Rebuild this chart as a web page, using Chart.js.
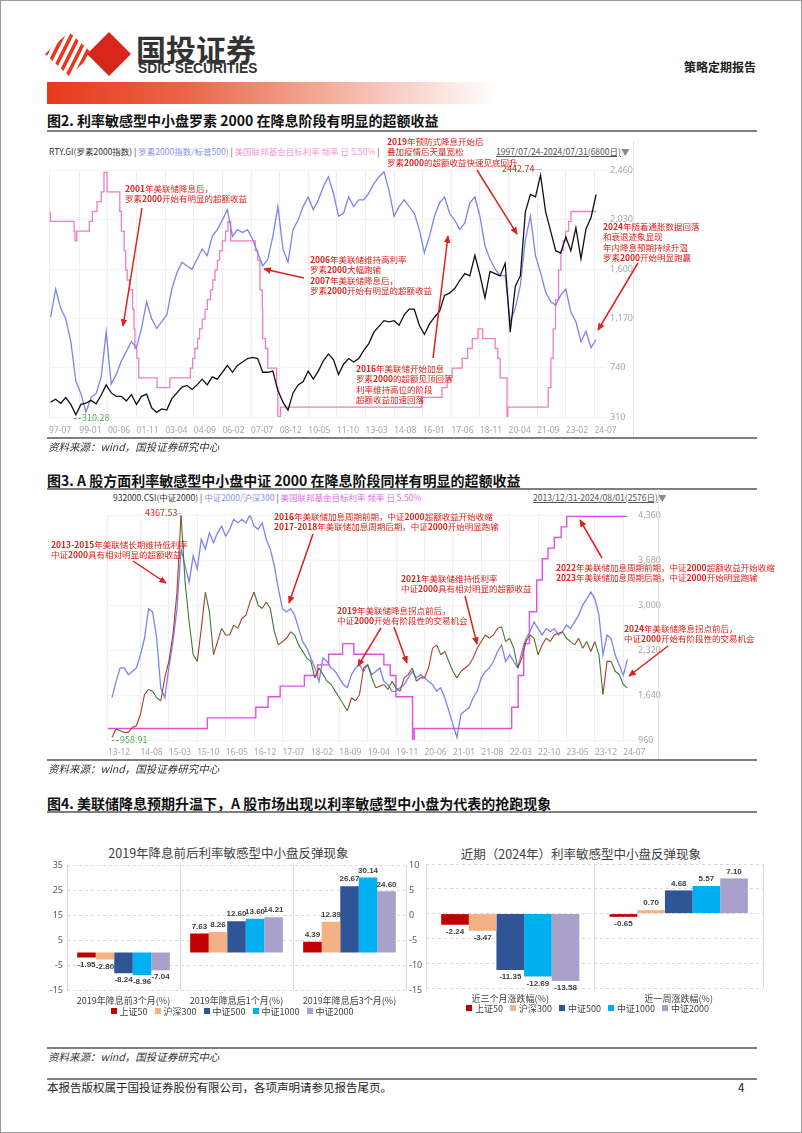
<!DOCTYPE html>
<html lang="zh-CN">
<head>
<meta charset="UTF-8" />
<title>策略定期报告</title>
<script src="https://cdn.jsdelivr.net/npm/chart.js"></script>
<style>
  body { margin: 0; background: #fff; font-family: "Noto Sans CJK SC", "Noto Sans", sans-serif; }
  .page { position: relative; width: 802px; height: 1133px; box-sizing: border-box; border: 1px solid #9a9a9a; overflow: hidden; background: #fff; }
  .abs { position: absolute; white-space: nowrap; }
  .rule { position: absolute; left: 46px; width: 710px; height: 2px; background: #7f7f7f; }
  .title { font-size: 14px; font-weight: bold; color: #111; line-height: 18px; }
  .source { font-size: 10.5px; font-style: italic; color: #333; line-height: 14px; }
  .hdr { font-size: 8.5px; line-height: 12px; color: #333; }
  .note { font-size: 8.5px; line-height: 10.5px; color: #e0201a; white-space: pre; }
  .note b { font-weight: bold; }
  .btitle { font-size: 12.5px; color: #404040; text-align: center; line-height: 16px; }
  .legend { font-size: 9px; color: #404040; line-height: 12px; text-align: center; }
  .legend span.sw { display: inline-block; width: 6px; height: 6px; margin: 0 3px 1px 7px; }
  canvas { position: absolute; }
</style>
</head>
<body>
<div class="page" id="page">

  <!-- header -->
  <svg class="abs" style="left:44px;top:31px" width="90" height="44" viewBox="0 0 90 44">
    <defs>
      <clipPath id="leftDiamond"><polygon points="24,0 48,22 24,44 0,22" /></clipPath>
    </defs>
    <g clip-path="url(#leftDiamond)" fill="#e8391f">
      <polygon points="-20,44 -16,44 6,0 2,0" />
      <polygon points="-12,44 -8,44 14,0 10,0" />
      <polygon points="-4,44 0,44 22,0 18,0" />
      <polygon points="4,44 8,44 30,0 26,0" />
      <polygon points="12,44 16,44 38,0 34,0" />
      <polygon points="20,44 24,44 46,0 42,0" />
      <polygon points="28,44 32,44 54,0 50,0" />
    </g>
    <polygon points="64,0 86,22 64,44 42,22" fill="#d9261c" />
  </svg>
  <div class="abs" style="left:135px;top:29px;font-size:30px;line-height:36px;font-weight:bold;color:#333">国投证券</div>
  <div class="abs" style="left:137px;top:59px;font-family:'Liberation Sans',sans-serif;font-size:14.5px;line-height:16px;font-weight:bold;color:#333;transform:scaleX(0.95);transform-origin:left">SDIC SECURITIES</div>
  <div class="abs" style="left:683px;top:58px;font-size:12px;line-height:16px;font-weight:bold;color:#222">策略定期报告</div>
  <div class="abs" style="left:46px;top:81px;width:452px;height:22px;background:linear-gradient(to right,#e63a1d 0%,#ea6445 30%,#f4b3a3 65%,#ffffff 100%)"></div>

  <!-- figure 2 -->
  <div class="abs title" style="left:46px;top:110px">图2. 利率敏感型中小盘罗素 2000 在降息阶段有明显的超额收益</div>
  <div class="rule" style="top:129px"></div>
  <div class="abs hdr" style="left:48px;top:144px">RTY.GI(罗素2000指数) | <span style="color:#8a8fef">罗素2000指数/标普500)</span> | <span style="color:#f29ad0">美国联邦基金目标利率 频率 日 5.50%</span> |</div>
  <div class="abs hdr" style="left:495px;top:144px;color:#555"><u>1997/07/24-2024/07/31(6800日)</u><span style="color:#888">▼</span></div>
  <canvas id="rtyChart" width="592" height="280" style="left:40px;top:160px"></canvas>
  <div class="abs" style="left:632px;top:140px;width:1px;height:297px;background:#e2e2e2"></div>
  <div class="rule" style="top:436px"></div>
  <div class="abs source" style="left:47px;top:439px">资料来源：wind，国投证券研究中心</div>

  <!-- figure 3 -->
  <div class="abs title" style="left:46px;top:470px">图3. A 股方面利率敏感型中小盘中证 2000 在降息阶段同样有明显的超额收益</div>
  <div class="rule" style="top:487px"></div>
  <div class="abs hdr" style="left:112px;top:490px">932000.CSI(中证2000) | <span style="color:#8a8fef">中证2000/沪深300</span> | <span style="color:#e070e8">美国联邦基金目标利率 频率 日 5.50%</span></div>
  <div class="abs hdr" style="left:532px;top:490px;color:#555"><u>2013/12/31-2024/08/01(2576日)</u><span style="color:#888">▼</span></div>
  <canvas id="csiChart" width="560" height="255" style="left:100px;top:505px"></canvas>
  <div class="abs" style="left:657px;top:488px;width:1px;height:271px;background:#e2e2e2"></div>
  <div class="rule" style="top:758px"></div>
  <div class="abs source" style="left:47px;top:761px">资料来源：wind，国投证券研究中心</div>

  <!-- figure 4 -->
  <div class="abs title" style="left:46px;top:793px">图4. 美联储降息预期升温下，A 股市场出现以利率敏感型中小盘为代表的抢跑现象</div>
  <div class="rule" style="top:810px"></div>
  <div class="abs btitle" style="left:40px;top:844px;width:375px">2019年降息前后利率敏感型中小盘反弹现象</div>
  <div class="abs btitle" style="left:420px;top:845px;width:320px">近期（2024年）利率敏感型中小盘反弹现象</div>
  <canvas id="bar2019" width="385" height="150" style="left:40px;top:855px"></canvas>
  <canvas id="bar2024" width="345" height="150" style="left:420px;top:855px"></canvas>
  <div class="abs legend" id="legend2019" style="left:40px;top:1005px;width:375px"></div>
  <div class="abs legend" id="legend2024" style="left:420px;top:1002px;width:326px"></div>
  <div class="rule" style="top:1046px"></div>
  <div class="abs source" style="left:47px;top:1049px">资料来源：wind，国投证券研究中心</div>
  <div class="rule" style="top:1077px"></div>
  <div class="abs" style="left:46px;top:1079px;font-size:11.5px;line-height:15px;color:#222">本报告版权属于国投证券股份有限公司，各项声明请参见报告尾页。</div>
  <div class="abs" style="left:737px;top:1079px;font-size:11.5px;line-height:15px;color:#222">4</div>

  <!-- value marks on the line charts -->
  <div class="abs" style="left:501px;top:162px;font-size:9px;line-height:12px;color:#e0201a">2442.74</div>
  <div class="abs" style="left:533px;top:168px;width:8px;height:1px;background:#b8bcf4"></div>
  <div class="abs" style="left:81px;top:411px;font-size:9px;line-height:12px;color:#4caf50">310.28</div>
  <div class="abs" style="left:73px;top:417px;width:7px;height:0;border-top:1px dashed #4caf50"></div>
  <div class="abs" style="left:144px;top:506px;font-size:9px;line-height:12px;color:#e0201a">4367.53</div>
  <div class="abs" style="left:174px;top:512px;width:6px;height:1px;background:#b8bcf4"></div>
  <div class="abs" style="left:119px;top:733px;font-size:9px;line-height:12px;color:#4caf50">958.91</div>
  <div class="abs" style="left:111px;top:739px;width:7px;height:0;border-top:1px dashed #4caf50"></div>

  <svg id="arrows" class="abs" width="802" height="1133" style="left:0;top:0;pointer-events:none">
    <defs>
      <marker id="ah" viewBox="0 0 10 10" refX="9" refY="5" markerWidth="5" markerHeight="5" orient="auto">
        <path d="M0,0.5 L10,5 L0,9.5 z" fill="#e0201a" />
      </marker>
    </defs>
  </svg>
</div>

<script>
  // ---- Figure 2: Russell 2000 (quarterly, from 1997-07-31) ----
  const rtyStart = 1997.58, rtyStep = 0.25;
  const rtyIndex = [
    440, 465,
    430, 480, 420, 330,
    420, 430, 455, 425,
    500, 590, 520, 490,
    490, 450, 505, 420,
    490, 510, 390, 350,
    380, 370, 470, 520,
    570, 585, 550, 590,
    640, 590, 660, 640,
    700, 760, 700, 760,
    790, 820, 830, 820,
    700, 700, 710, 540,
    440, 370, 520, 590,
    620, 710, 640, 710,
    800, 860, 810, 680,
    770, 820, 790, 820,
    890, 950, 1050, 1100,
    1150, 1140, 1150, 1110,
    1200, 1250, 1250, 1110,
    1030, 1120, 1180, 1230,
    1370, 1390, 1430, 1500,
    1560, 1540, 1720, 1550,
    1350, 1580, 1560, 1540,
    1650, 1050, 1450, 1540,
    2100, 2250, 2230, 2420,
    2100, 1930, 1760, 1740,
    1880, 1760, 1960, 1690,
    1950, 2050, 2250
  ];
  // Russell 2000 / S&P 500
  const rtyRelative = [
    0.440, 0.478,
    0.452, 0.438, 0.407, 0.354,
    0.337, 0.312, 0.332, 0.337,
    0.359, 0.420, 0.350, 0.363,
    0.381, 0.394, 0.407, 0.399,
    0.425, 0.461, 0.438, 0.425,
    0.434, 0.443, 0.478, 0.500,
    0.514, 0.509, 0.505, 0.518,
    0.532, 0.523, 0.549, 0.558,
    0.571, 0.585, 0.549, 0.558,
    0.554, 0.558, 0.545, 0.527,
    0.509, 0.518, 0.549, 0.589,
    0.532, 0.514, 0.558, 0.571,
    0.589, 0.602, 0.585, 0.598,
    0.616, 0.629, 0.607, 0.576,
    0.580, 0.602, 0.589, 0.598,
    0.598, 0.607, 0.620, 0.629,
    0.636, 0.611, 0.576, 0.589,
    0.598, 0.589, 0.580, 0.558,
    0.527, 0.549, 0.576, 0.594,
    0.602, 0.580, 0.571, 0.558,
    0.567, 0.594, 0.602, 0.576,
    0.536, 0.518, 0.505, 0.496,
    0.496, 0.434, 0.452, 0.483,
    0.545, 0.576, 0.523, 0.500,
    0.474, 0.461, 0.456, 0.470,
    0.478, 0.447, 0.434, 0.407,
    0.421, 0.399, 0.410
  ];
  const rtyTicks = ['97-07','99-01','00-06','01-11','03-04','04-09','06-02','07-07','08-12','10-05',
                    '11-10','13-03','14-08','16-01','17-06','18-11','20-04','21-09','23-02','24-07'];
  const rtyAxis = [310, 740, 1170, 1600, 2030, 2460];

  // US federal funds target rate (upper bound), change dates
  const fedDates = [
    '1997-07-24','1998-09-29','1998-10-15','1998-11-17','1999-06-30','1999-08-24','1999-11-16',
    '2000-02-02','2000-03-21','2000-05-16','2001-01-03','2001-01-31','2001-03-20','2001-04-18',
    '2001-05-15','2001-06-27','2001-08-21','2001-09-17','2001-10-02','2001-11-06','2001-12-11',
    '2002-11-06','2003-06-25','2004-06-30','2004-08-10','2004-09-21','2004-11-10','2004-12-14',
    '2005-02-02','2005-03-22','2005-05-03','2005-06-30','2005-08-09','2005-09-20','2005-11-01',
    '2005-12-13','2006-01-31','2006-03-28','2006-05-10','2006-06-29','2007-09-18','2007-10-31',
    '2007-12-11','2008-01-22','2008-01-30','2008-03-18','2008-04-30','2008-10-08','2008-10-29',
    '2008-12-16','2015-12-16','2016-12-14','2017-03-15','2017-06-14','2017-12-13','2018-03-21',
    '2018-06-13','2018-09-26','2018-12-19','2019-07-31','2019-09-18','2019-10-30','2020-03-03',
    '2020-03-15','2022-03-16','2022-05-04','2022-06-15','2022-07-27','2022-09-21','2022-11-02',
    '2022-12-14','2023-02-01','2023-03-22','2023-05-03','2023-07-26','2024-08-01'
  ];
  const fedRates = [
    5.50, 5.25, 5.00, 4.75, 5.00, 5.25, 5.50,
    5.75, 6.00, 6.50, 6.00, 5.50, 5.00, 4.50,
    4.00, 3.75, 3.50, 3.00, 2.50, 2.00, 1.75,
    1.25, 1.00, 1.25, 1.50, 1.75, 2.00, 2.25,
    2.50, 2.75, 3.00, 3.25, 3.50, 3.75, 4.00,
    4.25, 4.50, 4.75, 5.00, 5.25, 4.75, 4.50,
    4.25, 3.50, 3.00, 2.25, 2.00, 1.50, 1.00,
    0.25, 0.50, 0.75, 1.00, 1.25, 1.50, 1.75,
    2.00, 2.25, 2.50, 2.25, 2.00, 1.75, 1.25,
    0.25, 0.50, 1.00, 1.75, 2.50, 3.25, 4.00,
    4.50, 4.75, 5.00, 5.25, 5.50, 5.50
  ];

  // ---- Figure 3: CSI 2000 (monthly, from 2013-12-31) ----
  const csiStart = 2014.0, csiStep = 1 / 12;
  const csi2000 = [
    1000,
    1125, 1100, 1075, 1075, 1150, 1175, 1350, 1650, 1725, 1700, 1600, 1550,
    1900, 2150, 2550, 3200, 4367.53, 3350, 2750, 2250, 2150, 2650, 3200, 2900,
    2250, 2450, 2650, 2550, 2550, 2700, 2650, 2800, 2850, 3050, 3200, 3000,
    2950, 3050, 2950, 2600, 2400, 2450, 2500, 2600, 2550, 2400, 2300, 2200,
    2150, 1900, 2050, 1950, 1850, 1800, 1700, 1600, 1500, 1400, 1600, 1550,
    1650, 2050, 2100, 1900, 1750, 1775, 1800, 1725, 1850, 1750, 1700, 1900,
    1950, 2050, 1850, 1900, 1900, 2050, 2350, 2400, 2250, 2300, 2150, 2000,
    1900, 2000, 2050, 2100, 2200, 2350, 2450, 2550, 2500, 2550, 2650, 2675,
    2450, 2500, 2350, 2050, 2200, 2450, 2550, 2500, 2250, 2400, 2500, 2450,
    2550, 2575, 2600, 2500, 2450, 2400, 2500, 2350, 2450, 2300, 2450, 2250,
    1650, 2150, 2150, 2000, 1950, 1800, 1750
  ];
  // CSI 2000 / CSI 300
  const csiRelative = [
    0.449,
    0.490, 0.524, 0.524, 0.507, 0.515, 0.524, 0.557, 0.598, 0.673, 0.665, 0.598, 0.474,
    0.449, 0.524, 0.590, 0.673, 0.823, 0.781, 0.740, 0.806, 0.773, 0.848, 0.823, 0.864,
    0.839, 0.864, 0.881, 0.856, 0.873, 0.898, 0.889, 0.898, 0.889, 0.910, 0.881, 0.873,
    0.889, 0.848, 0.823, 0.781, 0.723, 0.673, 0.665, 0.673, 0.657, 0.623, 0.590, 0.574,
    0.549, 0.524, 0.490, 0.549, 0.540, 0.524, 0.515, 0.499, 0.482, 0.474, 0.507, 0.524,
    0.532, 0.515, 0.532, 0.507, 0.515, 0.524, 0.490, 0.482, 0.465, 0.465, 0.474, 0.482,
    0.499, 0.515, 0.499, 0.507, 0.499, 0.490, 0.482, 0.465, 0.474, 0.449, 0.416, 0.382,
    0.349, 0.407, 0.416, 0.424, 0.449, 0.465, 0.499, 0.515, 0.524, 0.540, 0.565, 0.582,
    0.540, 0.557, 0.540, 0.524, 0.565, 0.598, 0.615, 0.640, 0.623, 0.607, 0.623, 0.615,
    0.623, 0.607, 0.615, 0.632, 0.623, 0.640, 0.657, 0.682, 0.698, 0.715, 0.698, 0.657,
    0.557, 0.607, 0.598, 0.557, 0.532, 0.505, 0.545
  ];
  const csiTicks = ['13-12','14-08','15-03','15-10','16-05','16-12','17-07','18-02','18-09','19-04',
                    '19-11','20-06','21-01','21-08','22-03','22-10','23-05','23-12','24-07'];
  const csiAxis = [960, 1640, 2320, 3000, 3680, 4360];

  // ---- Figure 4: bar charts ----
  const barSeries = ['上证50', '沪深300', '中证500', '中证1000', '中证2000'];
  const barColors = ['#c00000', '#f4b183', '#2f5597', '#00b0f0', '#a9a1cc'];
  const periods2019 = ['2019年降息前3个月(%)', '2019年降息后1个月(%)', '2019年降息后3个月(%)'];
  const sz50_2019 = [-1.95, 7.63, 4.39];
  const hs300_2019 = [-2.80, 8.26, 12.39];
  const zz500_2019 = [-8.24, 12.60, 26.67];
  const zz1000_2019 = [-8.96, 13.60, 30.14];
  const zz2000_2019 = [-7.04, 14.21, 24.60];
  const periods2024 = ['近三个月涨跌幅(%)', '近一周涨跌幅(%)'];
  const sz50_2024 = [-2.24, -0.65];
  const hs300_2024 = [-3.47, 0.70];
  const zz500_2024 = [-11.35, 4.68];
  const zz1000_2024 = [-12.69, 5.57];
  const zz2000_2024 = [-13.58, 7.10];

  // helpers
  const yearOf = s => { const p = s.split('-').map(Number); return p[0] + (p[1] - 1) / 12 + (p[2] - 1) / 365; };
  const tickYear = l => { const p = l.split('-').map(Number); return (p[0] > 50 ? 1900 : 2000) + p[0] + (p[1] - 1) / 12; };
  const onGrid = (vals, start, step) => vals.map((v, i) => ({ x: start + i * step, y: v }));
  const fedPoints = fedDates.map((d, i) => ({ x: yearOf(d), y: fedRates[i] }));

  Chart.defaults.font.family = '"Noto Sans", "Noto Sans CJK SC", sans-serif';
  const cjk = '"Noto Sans CJK SC", "Noto Sans", sans-serif';

  function timeScales(ticks, axis, xmin, xmax, xHeight, tickPad) {
    return {
      x: {
        type: 'linear', min: xmin, max: xmax,
        afterBuildTicks: s => { s.ticks = ticks.map(l => ({ value: tickYear(l) })); },
        afterFit: s => { s.height = xHeight; },
        ticks: { callback: (v, i) => ticks[i], autoSkip: false, maxRotation: 0, align: 'start',
                 padding: tickPad, color: '#a6a6a6', font: { size: 8.5 } },
        grid: { color: '#eeeeee', drawTicks: false },
        border: { display: false }
      },
      y: {
        position: 'right', min: axis[0], max: axis[axis.length - 1],
        afterBuildTicks: s => { s.ticks = axis.map(v => ({ value: v })); },
        afterFit: s => { s.width = 27; },
        ticks: { padding: 4, color: '#a6a6a6', font: { size: 9 } },
        grid: { color: '#f3f3f3', drawTicks: false },
        border: { display: false }
      }
    };
  }

  // Figure 2
  const rtyScales = timeScales(rtyTicks, rtyAxis, 1997.5, 2025.07, 24, 8);
  rtyScales.yRel = { display: false, min: 0.3056, max: 0.6378 };
  rtyScales.yFed = { display: false, min: 0.25, max: 6.55 };
  new Chart(document.getElementById('rtyChart'), {
    type: 'line',
    data: {
      datasets: [
        { label: 'RTY.GI(罗素2000指数)', data: onGrid(rtyIndex, rtyStart, rtyStep), yAxisID: 'y',
          borderColor: '#111111', borderWidth: 1.3, pointRadius: 0 },
        { label: '罗素2000指数/标普500', data: onGrid(rtyRelative, rtyStart, rtyStep), yAxisID: 'yRel',
          borderColor: '#7c83ee', borderWidth: 1.3, pointRadius: 0 },
        { label: '美国联邦基金目标利率', data: fedPoints, yAxisID: 'yFed', stepped: 'after',
          borderColor: '#f07cc4', borderWidth: 1.3, pointRadius: 0 }
      ]
    },
    options: {
      animation: false, responsive: false, devicePixelRatio: 1,
      layout: { padding: { left: 7, top: 8, right: 0, bottom: 0 } },
      plugins: { legend: { display: false }, tooltip: { enabled: false } },
      scales: rtyScales
    }
  });

  // Figure 3
  const csiScales = timeScales(csiTicks, csiAxis, 2013.917, 2024.72, 21, 7);
  csiScales.yRel = { display: false, min: 0.3425, max: 0.908 };
  csiScales.yFed = { display: false, min: 0.23, max: 5.52 };
  new Chart(document.getElementById('csiChart'), {
    type: 'line',
    data: {
      datasets: [
        { label: '932000.CSI(中证2000)', data: onGrid(csi2000, csiStart, csiStep), yAxisID: 'y',
          borderWidth: 1.1, pointRadius: 0, borderColor: '#a8462c',
          segment: { borderColor: c => c.p1.parsed.y >= c.p0.parsed.y ? '#b23a26' : '#3f7a30' } },
        { label: '中证2000/沪深300', data: onGrid(csiRelative, csiStart, csiStep), yAxisID: 'yRel',
          borderColor: '#7c83ee', borderWidth: 1.3, pointRadius: 0 },
        { label: '美国联邦基金目标利率', data: fedPoints, yAxisID: 'yFed', stepped: 'after',
          borderColor: '#e04fe6', borderWidth: 1.4, pointRadius: 0 }
      ]
    },
    options: {
      animation: false, responsive: false, devicePixelRatio: 1,
      layout: { padding: { left: 7, top: 8, right: 0, bottom: 0 } },
      plugins: { legend: { display: false }, tooltip: { enabled: false } },
      scales: csiScales
    }
  });

  // Figure 4
  const valueLabels = {
    id: 'valueLabels',
    afterDatasetsDraw(chart) {
      const ctx = chart.ctx;
      ctx.save();
      ctx.font = 'bold 8px "Liberation Sans", sans-serif';
      ctx.fillStyle = '#404040';
      ctx.textAlign = 'center';
      chart.data.datasets.forEach((ds, di) => {
        chart.getDatasetMeta(di).data.forEach((bar, i) => {
          const v = ds.data[i];
          ctx.textBaseline = v >= 0 ? 'bottom' : 'top';
          ctx.fillText(v.toFixed(2), bar.x, v >= 0 ? bar.y - 3 : bar.y + 3);
        });
      });
      ctx.restore();
    }
  };

  function barSets(rows) {
    return barSeries.map((name, k) => ({
      label: name, data: rows[k], backgroundColor: barColors[k],
      categoryPercentage: 0.82, barPercentage: 1
    }));
  }

  function barX(h) {
    return {
      grid: { color: '#d9d9d9', drawTicks: false },
      border: { display: false },
      ticks: { padding: 5, color: '#404040', font: { size: 9, family: cjk } },
      afterFit: s => { s.height = h; }
    };
  }

  new Chart(document.getElementById('bar2019'), {
    type: 'bar',
    data: { labels: periods2019, datasets: barSets([sz50_2019, hs300_2019, zz500_2019, zz1000_2019, zz2000_2019]) },
    options: {
      animation: false, responsive: false, devicePixelRatio: 1,
      layout: { padding: { top: 7, left: 0, right: 0, bottom: 0 } },
      plugins: { legend: { display: false }, tooltip: { enabled: false } },
      scales: {
        x: barX(16),
        y: { position: 'left', min: -15, max: 35, ticks: { stepSize: 5, padding: 4, color: '#595959', font: { size: 9 } },
             grid: { color: '#d9d9d9', drawTicks: false }, border: { display: false, dash: [3, 3] },
             afterFit: s => { s.width = 26; } },
        y2: { position: 'right', min: -15, max: 10, ticks: { stepSize: 5, padding: 3, color: '#595959', font: { size: 9 } },
              grid: { display: false, drawTicks: false }, border: { display: false },
              afterFit: s => { s.width = 20; } }
      }
    },
    plugins: [valueLabels]
  });

  new Chart(document.getElementById('bar2024'), {
    type: 'bar',
    data: { labels: periods2024, datasets: barSets([sz50_2024, hs300_2024, zz500_2024, zz1000_2024, zz2000_2024]) },
    options: {
      animation: false, responsive: false, devicePixelRatio: 1,
      layout: { padding: { top: 8, left: 0, right: 3, bottom: 0 } },
      plugins: { legend: { display: false }, tooltip: { enabled: false } },
      scales: {
        x: barX(18),
        y: { min: -15, max: 10, ticks: { stepSize: 5, display: false },
             grid: { color: '#d9d9d9', drawTicks: false }, border: { display: false, dash: [3, 3] },
             afterFit: s => { s.width = 5; } }
      }
    },
    plugins: [valueLabels]
  });

  ['legend2019', 'legend2024'].forEach(id => {
    document.getElementById(id).innerHTML = barSeries
      .map((n, k) => '<span class="sw" style="background:' + barColors[k] + '"></span>' + n).join('');
  });

  // callouts
  const page = document.getElementById('page');
  const arrows = document.getElementById('arrows');
  function note(x, y, lines) {
    const d = document.createElement('div');
    d.className = 'abs note';
    d.style.left = x + 'px';
    d.style.top = (y - 5.25) + 'px';
    d.innerHTML = lines.join('\n').replace(/(\d[\d\-]*)/g, '<b>$1</b>');
    page.insertBefore(d, arrows);
  }
  function arrow(x1, y1, x2, y2) {
    const l = document.createElementNS('http://www.w3.org/2000/svg', 'line');
    l.setAttribute('x1', x1); l.setAttribute('y1', y1);
    l.setAttribute('x2', x2); l.setAttribute('y2', y2);
    l.setAttribute('stroke', '#e0201a'); l.setAttribute('stroke-width', '1.5');
    l.setAttribute('marker-end', 'url(#ah)');
    arrows.appendChild(l);
  }

  note(124, 187, ['2001年美联储降息后，', '罗素2000开始有明显的超额收益']);
  arrow(141, 207, 122, 325);
  note(309, 258, ['2006年美联储维持高利率', '罗素2000大幅跑输', '2007年美联储降息后，', '罗素2000开始有明显的超额收益']);
  arrow(303, 277, 263, 268);
  note(355, 367, ['2016年美联储开始加息', '罗素2000的超额见顶回落', '利率维持高位的阶段', '超额收益加速回落']);
  arrow(432, 357, 447, 235);
  note(386, 140, ['2019年预防式降息开始后', '叠加疫情后天量宽松', '罗素2000的超额收益快速见底回升']);
  arrow(476, 169, 516, 233);
  note(602, 225, ['2024年随着通胀数据回落', '和衰退迹象显现', '年内降息预期持续升温', '罗素2000开始明显跑赢']);
  arrow(637, 262, 597, 329);

  note(50, 543, ['2013-2015年美联储长期维持低利率', '中证2000具有相对明显的超额收益']);
  arrow(132, 560, 165, 582);
  note(273, 515, ['2016年美联储加息周期前期，中证2000超额收益开始收缩', '2017-2018年美联储加息周期后期，中证2000开始明显跑输']);
  arrow(312, 533, 288, 602);
  note(336, 609, ['2019年美联储降息拐点前后，', '中证2000开始有阶段性的交易机会']);
  arrow(380, 627, 357, 665);
  arrow(393, 626, 406, 662);
  note(400, 577, ['2021年美联储维持低利率', '中证2000具有相对明显的超额收益']);
  arrow(464, 595, 476, 643);
  note(555, 566, ['2022年美联储加息周期前期，中证2000超额收益开始收缩', '2023年美联储加息周期后期，中证2000开始明显跑输']);
  arrow(601, 557, 579, 519);
  note(623, 627, ['2024年美联储降息拐点前后，', '中证2000开始有阶段性的交易机会']);
  arrow(667, 645, 628, 675);
</script>
</body>
</html>
